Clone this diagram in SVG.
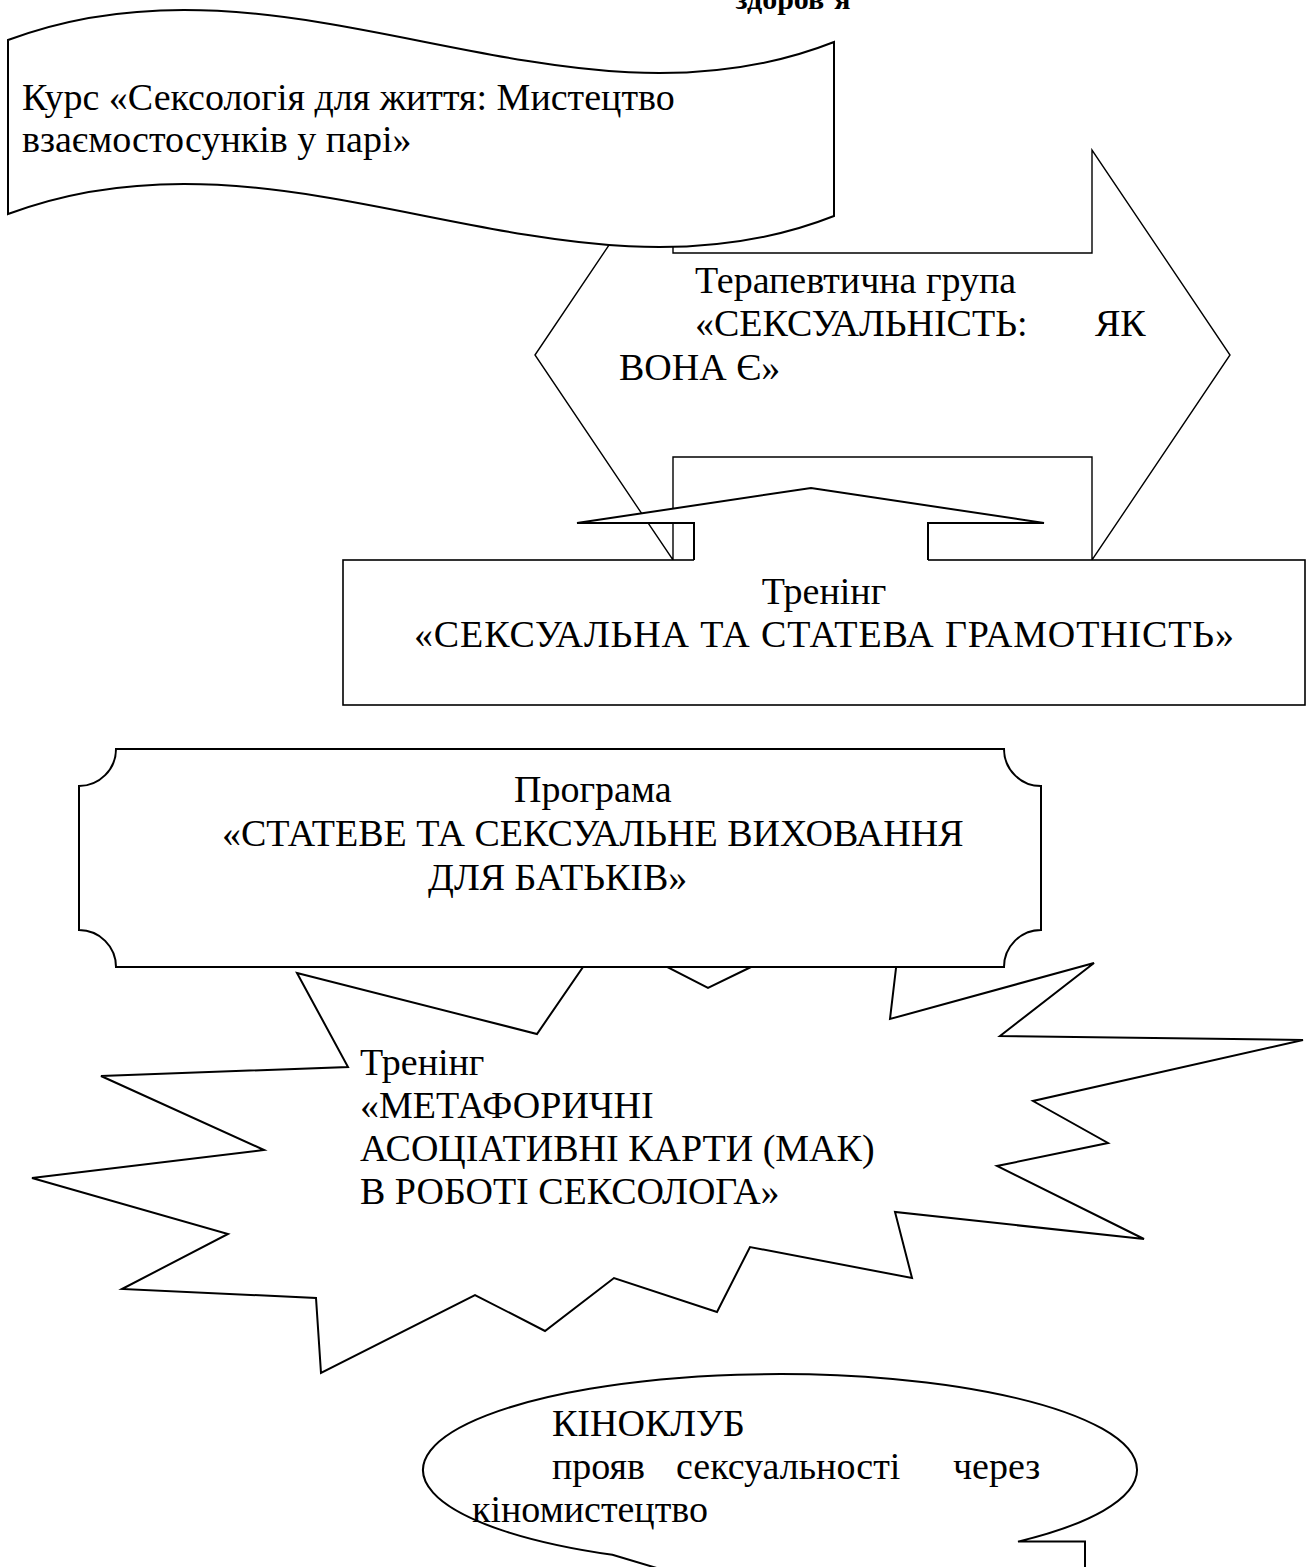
<svg xmlns="http://www.w3.org/2000/svg" width="1314" height="1567" viewBox="0 0 1314 1567">
<style>
.s{fill:#fff;stroke:#000;stroke-width:2;stroke-linejoin:miter}
.thin{stroke-width:1.4}
.ln{fill:none;stroke:#000;stroke-width:2}
.t{font-family:"Liberation Serif","Times New Roman",serif;font-size:38px;fill:#000}
.b{font-weight:bold;font-size:30px}
</style>
<rect width="1314" height="1567" fill="#fff"/>
<text class="t b" x="793" y="9" text-anchor="middle">здоров’я</text>

<g id="node-therapy">
<polygon class="s thin" points="535,355 673,150 673,253 1092,253 1092,150 1230,355 1092,560 1092,457 673,457 673,560"/>
<text class="t" x="695" y="293">Терапевтична група</text>
<text class="t" x="695" y="336">«СЕКСУАЛЬНІСТЬ:<tspan x="1095">ЯК</tspan></text>
<text class="t" x="619" y="380">ВОНА Є»</text>
</g>

<g id="node-course">
<path class="s" d="M8,40 C290,-66 560,150 834,42 L834,216 C560,324 290,108 8,214 Z"/>
<text class="t" x="22" y="110">Курс «Сексологія для життя: Мистецтво</text>
<text class="t" x="22" y="152">взаємостосунків у парі»</text>
</g>

<g id="node-training">
<rect class="s" x="343" y="560" width="962" height="145" style="stroke-width:1.6"/>
<text class="t" x="824" y="604" text-anchor="middle">Тренінг</text>
<text class="t" x="414" y="647" textLength="820">«СЕКСУАЛЬНА ТА СТАТЕВА ГРАМОТНІСТЬ»</text>
</g>

<g id="connectors">
<polygon points="694,561.5 694,523 577,523 811,488 1044,523 928,523 928,561.5" fill="#fff" stroke="none"/>
<polyline class="ln" points="694,560 694,523 577,523 811,488 1044,523 928,523 928,560"/>
</g>

<g id="node-mak">
<polygon class="s" points="297,973 537,1034 605,935 708,988 751,967 905,892 890,1019 1094,963 1000,1036 1303,1040 1033,1101 1108,1143 997,1166 1144,1239 895,1212 912,1278 750,1247 717,1312 614,1278 545,1331 475,1295 321,1373 316,1298 122,1289 228,1234 32,1178 264,1150 101,1076 348,1067"/>
<text class="t" x="360" y="1075">Тренінг</text>
<text class="t" x="360" y="1118">«МЕТАФОРИЧНІ</text>
<text class="t" x="360" y="1161">АСОЦІАТИВНІ КАРТИ (МАК)</text>
<text class="t" x="360" y="1204">В РОБОТІ СЕКСОЛОГА»</text>
</g>

<g id="node-program">
<path class="s" d="M116,749 L1004,749 A37,37 0 0 0 1041,786 L1041,930 A37,37 0 0 0 1004,967 L116,967 A37,37 0 0 0 79,930 L79,786 A37,37 0 0 0 116,749 Z"/>
<text class="t" x="514" y="802">Програма</text>
<text class="t" x="222" y="846">«СТАТЕВЕ ТА СЕКСУАЛЬНЕ ВИХОВАННЯ</text>
<text class="t" x="428" y="890">ДЛЯ БАТЬКІВ»</text>
</g>

<g id="node-kinoclub">
<path class="s" d="M612.4,1554.8 A357,96 0 1 1 1018,1541.6 L1085,1541.6 L1085,1700 L1100,1700 Z"/>
<text class="t" x="552" y="1436">КІНОКЛУБ</text>
<text class="t" y="1479"><tspan x="552">прояв</tspan><tspan x="676">сексуальності</tspan><tspan x="953">через</tspan></text>
<text class="t" x="472" y="1522">кіномистецтво</text>
</g>
</svg>
